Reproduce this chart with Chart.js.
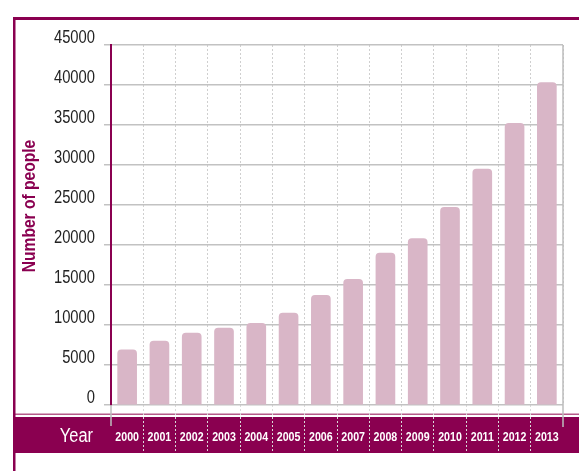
<!DOCTYPE html>
<html>
<head>
<meta charset="utf-8">
<script src="https://cdn.jsdelivr.net/npm/chart.js@4.4.1/dist/chart.umd.min.js"></script>
<style>
  html, body { margin: 0; padding: 0; background: #fff; }
</style>
</head>
<body>
<canvas id="chart" width="579" height="471"></canvas>
<script>
  var years = ['2000', '2001', '2002', '2003', '2004', '2005', '2006',
               '2007', '2008', '2009', '2010', '2011', '2012', '2013'];
  var people = [6900, 8000, 9000, 9600, 10200, 11500, 13700,
                15700, 19000, 20800, 24700, 29500, 35200, 40300];
  var peopleTicks = [0, 5000, 10000, 15000, 20000, 25000, 30000, 35000, 40000, 45000];

  var plum = '#8a0050';
  var barPink = '#d9b6c7';
  var sans = "'Liberation Sans', Arial, sans-serif";

  var ctx2d = document.getElementById('chart').getContext('2d');

  // no narrow font installed, so squeeze every label sideways to get the condensed look
  var rawFillText = ctx2d.fillText;
  ctx2d.fillText = function (text, x, y) {
    this.save();
    this.translate(x, y);
    this.scale(0.82, 1);
    rawFillText.call(this, text, 0, 0);
    this.restore();
  };

  // frame, purple band under the axis and the two axis captions
  var decor = {
    id: 'decor',
    beforeDraw: function (chart) {
      var c = chart.ctx, a = chart.chartArea, w = chart.width, h = chart.height;
      c.save();
      c.fillStyle = plum;
      c.fillRect(14, a.bottom + 12, w - 14, 36);
      c.fillStyle = '#b65a8a';
      c.fillRect(14, a.bottom + 8.5, w - 14, 1.5);
      c.fillStyle = plum;
      c.fillRect(13, 17, w - 13, 3);
      c.fillRect(13, 17, 2.5, h - 17);
      c.restore();
    },
    afterDraw: function (chart) {
      var c = chart.ctx, a = chart.chartArea;
      c.save();
      c.strokeStyle = '#bdbdbd';
      c.lineWidth = 1.5;
      c.beginPath();
      c.moveTo(a.right, a.top);
      c.lineTo(a.right, a.bottom + 22);
      c.moveTo(a.left, a.bottom);
      c.lineTo(a.left, a.bottom + 21);
      c.stroke();

      c.fillStyle = '#fff';
      c.font = '20px ' + sans;
      c.textAlign = 'right';
      c.textBaseline = 'middle';
      c.fillText('Year', 93, a.bottom + 31);

      c.translate(30, 206);
      c.rotate(-Math.PI / 2);
      c.fillStyle = plum;
      c.font = 'bold 19px ' + sans;
      c.textAlign = 'center';
      c.fillText('Number of people', 0, 0);
      c.restore();
    }
  };

  new Chart(ctx2d, {
    type: 'bar',
    data: {
      labels: years,
      datasets: [{
        data: people,
        backgroundColor: barPink,
        barThickness: 19,
        borderRadius: { topLeft: 4, topRight: 4 },
        borderSkipped: 'bottom'
      }]
    },
    options: {
      responsive: false,
      animation: false,
      layout: { padding: { left: 15, right: 16, top: 45, bottom: 0 } },
      plugins: {
        legend: { display: false },
        tooltip: { enabled: false }
      },
      scales: {
        x: {
          afterFit: function (scale) { scale.height = 66; },
          grid: {
            offset: true,
            color: '#cfcfcf',
            lineWidth: 1,
            tickLength: 48,
            tickColor: function (c) {
              return (c.index === 0 || c.index === undefined) ? 'rgba(0,0,0,0)' : '#d9d9d9';
            },
            tickBorderDash: [2, 2]
          },
          border: { display: false, dash: [2, 2] },
          ticks: {
            color: '#fff',
            padding: -23,
            autoSkip: false,
            maxRotation: 0,
            minRotation: 0,
            font: { family: sans, size: 13, weight: 'bold' }
          }
        },
        y: {
          min: 0,
          max: 45000,
          afterFit: function (scale) { scale.width = 96; },
          afterBuildTicks: function (scale) {
            scale.ticks = peopleTicks.map(function (v) { return { value: v }; });
          },
          grid: {
            color: '#c2c2c2',
            lineWidth: 1.5,
            tickLength: 7,
            tickColor: '#c2c2c2'
          },
          border: { color: plum, width: 2 },
          ticks: {
            color: '#222',
            padding: 9,
            labelOffset: -7,
            font: { family: sans, size: 18 },
            callback: function (v) { return String(v); }
          }
        }
      }
    },
    plugins: [decor]
  });
</script>
</body>
</html>
